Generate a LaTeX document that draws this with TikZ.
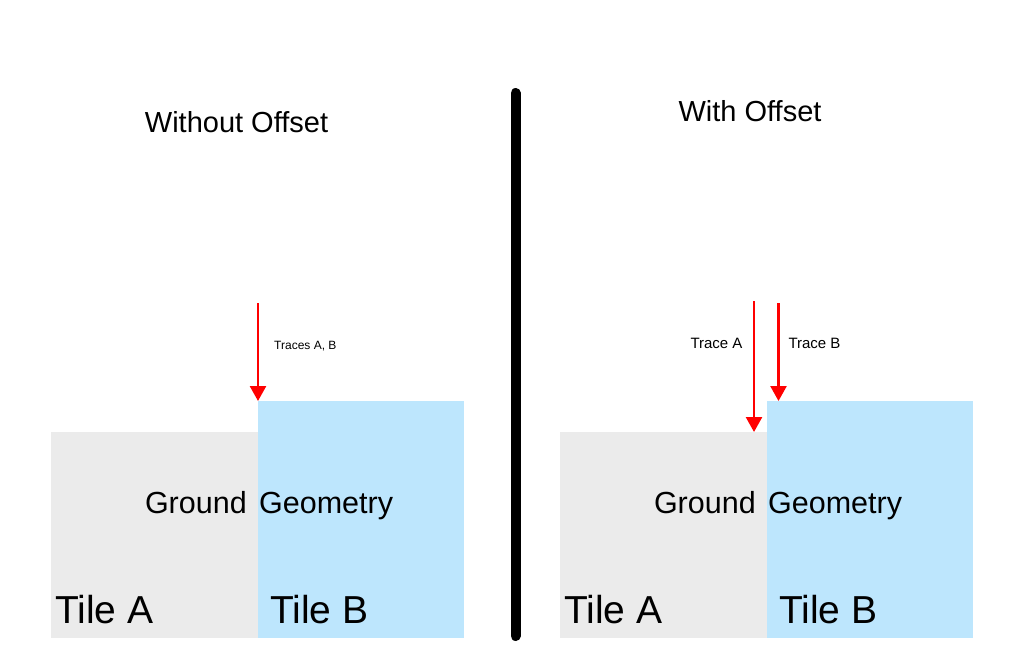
\documentclass[tikz,border=0pt]{standalone}
\usepackage{fontspec}
\setmainfont{Liberation Sans}
\usetikzlibrary{arrows.meta}
\definecolor{tilegray}{HTML}{EBEBEB}
\definecolor{tileblue}{HTML}{BDE6FD}
\begin{document}
\begin{tikzpicture}[x=1pt,y=-1pt,
  tileg/.style={fill=tilegray,draw=none,inner sep=0pt,outer sep=0pt,anchor=north west},
  tileb/.style={fill=tileblue,draw=none,inner sep=0pt,outer sep=0pt,anchor=north west},
  txt/.style={inner sep=0pt,outer sep=0pt,anchor=base west,text=black},
  title/.style={inner sep=0pt,anchor=base,font=\fontsize{29}{31}\selectfont},
  big/.style={txt,font=\fontsize{39}{41}\selectfont},
  mid/.style={txt,font=\fontsize{30.5}{32}\selectfont},
  lbl/.style={inner sep=0pt,anchor=base,font=\fontsize{15}{17}\selectfont},
  small/.style={inner sep=0pt,anchor=base west,font=\fontsize{12}{14}\selectfont},
  trace/.style={draw=red,line width=2.5pt,-{Triangle[length=15pt,width=16pt]}},
  divider/.style={line width=10pt,line cap=round}
]
\useasboundingbox (0,0) rectangle (1024,656);
% left panel
\node[tileg,minimum width=207pt,minimum height=206pt] (ga1) at (51,432) {};
\node[tileb,minimum width=206pt,minimum height=237pt] (gb1) at (258,401) {};
\node[title] (t1) at (236.5,132) {Without Offset};
\node[mid] (gg1) at (145,513) {Ground\hspace{4pt} Geometry};
\node[big] (la1) at (55,623) {Tile A};
\node[big] (lb1) at (270,623) {Tile B};
\coordinate (s1) at (258,303);
\draw[trace] (s1) -- (gb1.north west);
\node[small] (tr1) at (274,349) {Traces A, B};
% divider
\coordinate (d1) at (515.5,93);
\coordinate (d2) at (515.5,636);
\draw[divider] (d1) -- (d2);
% right panel
\node[tileg,minimum width=207pt,minimum height=206pt] (ga2) at (560,432) {};
\node[tileb,minimum width=206pt,minimum height=237pt] (gb2) at (767,401) {};
\node[title] (t2) at (750,121) {With Offset};
\node[mid] (gg2) at (654,513) {Ground\hspace{4pt} Geometry};
\node[big] (la2) at (564,623) {Tile A};
\node[big] (lb2) at (779,623) {Tile B};
\coordinate (s2) at (754,301);
\coordinate (s3) at (778.5,303);
\draw[trace] (s2) -- (s2 |- ga2.north);
\draw[trace] (s3) -- (s3 |- gb2.north);
\node[lbl] (tra) at (716.5,348.5) {Trace A};
\node[lbl] (trb) at (814.5,348.5) {Trace B};
\end{tikzpicture}
\end{document}
